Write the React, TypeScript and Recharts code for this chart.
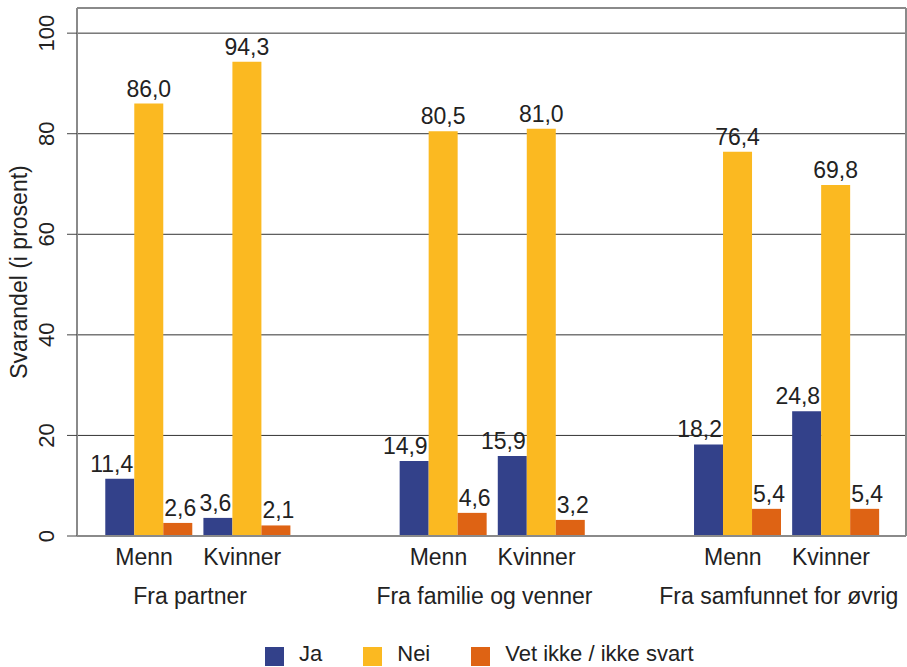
import { BarChart, Bar, XAxis, YAxis, CartesianGrid, LabelList, Legend, ReferenceLine } from 'recharts'

const groups = ['Fra partner', 'Fra familie og venner', 'Fra samfunnet for øvrig']
const genders = ['Menn', 'Kvinner']
const ja = [11.4, 3.6, 14.9, 15.9, 18.2, 24.8]
const nei = [86.0, 94.3, 80.5, 81.0, 76.4, 69.8]
const vetIkke = [2.6, 2.1, 4.6, 3.2, 5.4, 5.4]
const yTicks = [0, 20, 40, 60, 80, 100]

const series = [
  { key: 'ja', name: 'Ja', color: '#33418a', anchor: 'end' },
  { key: 'nei', name: 'Nei', color: '#fbb921', anchor: 'middle' },
  { key: 'vet', name: 'Vet ikke / ikke svart', color: '#de6314', anchor: 'start' },
]

const FONT = 'Liberation Sans, Arial, sans-serif'
const TXT = '#222'
const AXIS = '#8a8a8a'

// two bars per group, an empty slot between groups
const data: any[] = []
groups.forEach((g, gi) => {
  if (gi > 0) data.push({ id: 'gap' + gi, sub: '', group: '' })
  genders.forEach((s, si) => {
    const i = gi * 2 + si
    data.push({ id: g + '|' + s, sub: s, group: si === 0 ? g : '', ja: ja[i], nei: nei[i], vet: vetIkke[i] })
  })
})

const fmt = (v: number) => v.toFixed(1).replace('.', ',')

function makeLabel(anchor: string) {
  return (p: any) => {
    const { x, y, width, value } = p
    if (value == null) return null
    const tx = anchor === 'end' ? +x + +width - 1 : anchor === 'start' ? +x + 1 : +x + +width / 2
    return (
      <text x={tx} y={+y - 7} textAnchor={anchor as any} fontSize={23} fill={TXT} fontFamily={FONT}>
        {fmt(value)}
      </text>
    )
  }
}

function XTick({ x, y, payload }: any) {
  const row = data[payload.index]
  if (!row || !row.sub) return null
  return (
    <g fontFamily={FONT} fontSize={23} fill={TXT}>
      <text x={x - 4} y={y + 21} textAnchor="middle" fill={TXT}>{row.sub}</text>
      {row.group && (
        <text x={x + 49 - 7} y={y + 60} textAnchor="middle" fill={TXT}>{row.group}</text>
      )}
    </g>
  )
}

function YTick({ y, payload }: any) {
  return (
    <text x={54} y={y} transform={`rotate(-90, 54, ${y})`} textAnchor="middle" fontSize={22} fill={TXT} fontFamily={FONT}>
      {payload.value}
    </text>
  )
}

function LegendBox() {
  return (
    <div style={{ display: 'flex', alignItems: 'center', height: 22, paddingLeft: 265, fontFamily: FONT, fontSize: 22, color: TXT }}>
      {series.map((s, i) => (
        <div key={s.key} style={{ display: 'flex', alignItems: 'center', marginLeft: i ? 41 : 0, height: 22 }}>
          <span style={{ width: 19, height: 19, background: s.color, display: 'inline-block', marginRight: 15, position: 'relative', top: 2 }} />
          <span style={{ lineHeight: '22px' }}>{s.name}</span>
        </div>
      ))}
    </div>
  )
}

export default function App() {
  return (
    <div style={{ position: 'absolute', left: 0, top: 0, background: '#fff' }}>
      <BarChart
        width={907}
        height={667}
        data={data}
        margin={{ top: 8, right: 0, bottom: 51, left: 0 }}
        barCategoryGap="6.4%"
        barGap={0}
      >
        <CartesianGrid vertical={false} stroke="#333" strokeWidth={1} />
        <XAxis
          dataKey="id"
          interval={0}
          tick={<XTick />}
          tickLine={false}
          axisLine={{ stroke: AXIS, strokeWidth: 2 }}
          height={80}
          padding={{ left: 22, right: 22 }}
        />
        <YAxis
          domain={[0, 105]}
          ticks={yTicks}
          width={77}
          tick={<YTick />}
          tickSize={10}
          tickLine={{ stroke: '#444' }}
          axisLine={{ stroke: AXIS, strokeWidth: 2 }}
          allowDataOverflow
          label={{
            content: () => (
              <text x={27} y={272} transform="rotate(-90, 27, 272)" textAnchor="middle" fontSize={23} fill={TXT} fontFamily={FONT}>
                Svarandel (i prosent)
              </text>
            ),
          }}
        />
        <YAxis yAxisId="r" orientation="right" width={1} tick={false} tickLine={false} axisLine={{ stroke: AXIS, strokeWidth: 2 }} />
        <ReferenceLine y={105} stroke={AXIS} strokeWidth={2} />
        <Legend
          layout="vertical"
          align="center"
          verticalAlign="middle"
          content={() => <LegendBox />}
          wrapperStyle={{ left: 0, top: 643, width: 907, height: 22 }}
        />
        {series.map(s => (
          <Bar key={s.key} dataKey={s.key} name={s.name} fill={s.color} isAnimationActive={false}>
            <LabelList dataKey={s.key} content={makeLabel(s.anchor)} />
          </Bar>
        ))}
      </BarChart>
    </div>
  )
}
